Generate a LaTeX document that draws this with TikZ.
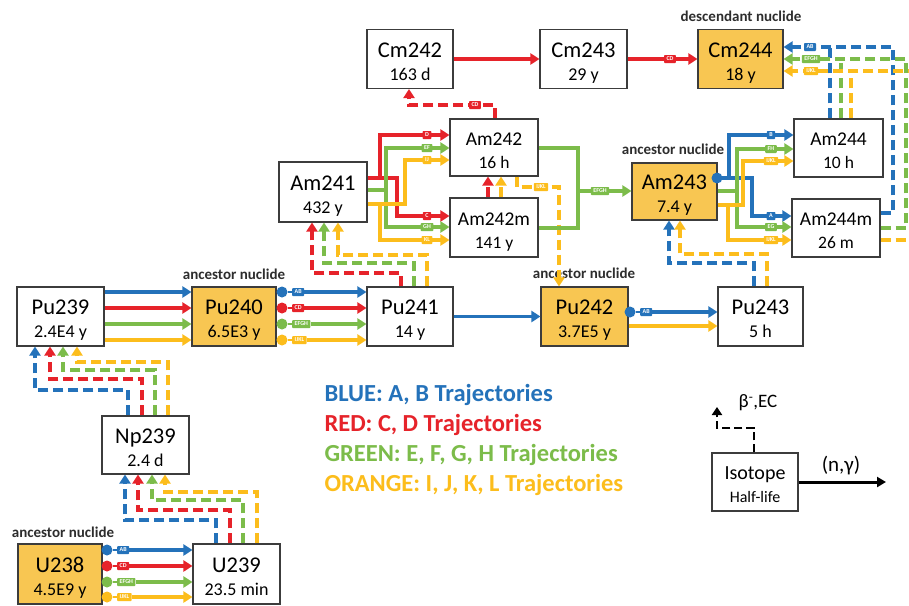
\documentclass[tikz,border=0pt]{standalone}
\usepackage{fontspec}
\setmainfont{Carlito}
\usetikzlibrary{arrows.meta}
\definecolor{cblue}{RGB}{36,114,186}
\definecolor{cred}{RGB}{230,35,42}
\definecolor{cgreen}{RGB}{124,188,74}
\definecolor{corange}{RGB}{252,189,28}
\definecolor{cfill}{RGB}{248,198,82}
\definecolor{boxline}{RGB}{60,60,60}
\definecolor{anctext}{RGB}{45,45,45}
\newcommand{\nuc}[2]{\rule{0pt}{23pt}{\fontsize{22.5}{22.5}\selectfont #1}\\{\fontsize{18}{18}\selectfont #2}\rule[-3.5pt]{0pt}{3.5pt}}
\newcommand{\nucs}[2]{\rule{0pt}{22pt}{\fontsize{19.5}{19.5}\selectfont #1}\\{\fontsize{17.5}{17.5}\selectfont #2}\rule[-3.5pt]{0pt}{3.5pt}}
\tikzset{
  nbox/.style={draw=boxline, line width=1.1pt, fill=white, inner sep=0pt, align=center,
    font=\fontsize{17.5}{23}\selectfont, minimum width=86pt, minimum height=59pt},
  abox/.style={nbox, fill=cfill},
  sol/.style={line width=3.7pt, -{Triangle[length=9pt,width=11pt]}},
  sln/.style={line width=3.7pt},
  dsh/.style={line width=3.3pt, dash pattern=on 10pt off 5pt, -{Triangle[length=9pt,width=11pt]}},
  dshn/.style={line width=3.3pt, dash pattern=on 10pt off 5pt},
  ntag/.style={fill=#1, text=white, font=\fontsize{6}{6}\selectfont\bfseries, inner xsep=2.5pt,
    inner ysep=1pt, minimum height=8pt, rounded corners=0.8pt},
  ndot/.style={circle, fill=#1, minimum size=11pt, inner sep=0pt},
  thinl/.style={line width=1.8pt},
  anclab/.style={font=\fontsize{15}{15}\selectfont\bfseries, text=anctext},
  lgd/.style={font=\fontsize{24.5}{24.5}\selectfont\bfseries, anchor=west},
}
\begin{document}
\begin{tikzpicture}[x=1pt,y=-1pt]
\useasboundingbox (0,0) rectangle (909,605);
\clip (0,0) rectangle (909,605);
\fill[white] (0,0) rectangle (909,605);

% ---------- boxes ----------
\node[nbox] (Cm242) at (410,59) {\nuc{Cm242}{163 d}};
\node[nbox, minimum width=87pt] (Cm243) at (583.5,59) {\nuc{Cm243}{29 y}};
\node[abox, minimum width=85pt] (Cm244) at (740.5,59) {\nuc{Cm244}{18 y}};
\node[nbox, minimum width=88pt, minimum height=60pt] (Am241) at (323,192) {\nuc{Am241}{432 y}};
\node[nbox, minimum width=88pt, minimum height=57pt] (Am242) at (494,147.5) {\nucs{Am242}{16 h}};
\node[nbox, minimum width=88pt] (Am242m) at (494,227.5) {\nucs{Am242m}{141 y}};
\node[abox, minimum width=85pt, minimum height=57pt] (Am243) at (674.5,191.5) {\nuc{Am243}{7.4 y}};
\node[nbox, minimum width=89pt, minimum height=58pt] (Am244) at (838.5,148) {\nucs{Am244}{10 h}};
\node[nbox, minimum width=88pt, minimum height=58pt] (Am244m) at (836,228) {\nucs{Am244m}{26 m}};
\node[nbox, minimum width=87pt] (Pu239) at (60.5,316.5) {\nuc{Pu239}{2.4E4 y}};
\node[abox, minimum width=84pt] (Pu240) at (234,316.5) {\nuc{Pu240}{6.5E3 y}};
\node[nbox] (Pu241) at (410,316.5) {\nuc{Pu241}{14 y}};
\node[abox, minimum width=87pt] (Pu242) at (584.5,316.5) {\nuc{Pu242}{3.7E5 y}};
\node[nbox, minimum width=85pt] (Pu243) at (760.5,316.5) {\nuc{Pu243}{5 h}};
\node[nbox, minimum width=87pt, minimum height=58pt] (Np239) at (145.5,445) {\nuc{Np239}{2.4 d}};
\node[abox, minimum width=84pt, minimum height=60pt] (U238) at (60,574) {\nuc{U238}{4.5E9 y}};
\node[nbox, minimum width=87pt, minimum height=60pt] (U239) at (236.5,574) {\nuc{U239}{23.5 min}};
\node[nbox, minimum width=86pt, minimum height=58pt] (Key) at (755,482)
  {\rule{0pt}{22pt}{\fontsize{20}{20}\selectfont Isotope}\\{\fontsize{16}{16}\selectfont Half-life}\rule[-3.5pt]{0pt}{3.5pt}};

% ---------- labels ----------
\node[anclab] (an1) at (234,274) {ancestor nuclide};
\node[anclab] (an2) at (584,273) {ancestor nuclide};
\node[anclab] (an3) at (673,149) {ancestor nuclide};
\node[anclab] (an4) at (63,532) {ancestor nuclide};
\node[anclab] (dn) at (741,16) {descendant nuclide};

\node[lgd, text=cblue] (lg1) at (321,395) {BLUE: A, B Trajectories};
\node[lgd, text=cred] (lg2) at (321,425) {RED: C, D Trajectories};
\node[lgd, text=cgreen] (lg3) at (321,455) {GREEN: E, F, G, H Trajectories};
\node[lgd, text=corange] (lg4) at (321,485) {ORANGE: I, J, K, L Trajectories};

% ---------- U238 -> U239 ----------
\foreach \c/\y/\l/\n in {cblue/550/AB/a, cred/566/CD/b, cgreen/582/EFGH/c, corange/597/IJKL/d} {
  \node[ndot=\c] (u38d\n) at (107,\y) {};
  \node[ntag=\c, anchor=west] (u38l\n) at (117,\y) {\l};
  \draw[thinl,\c] (u38d\n) -- (u38l\n);
  \draw[sol,\c] (u38l\n) -- (U239.west |- u38l\n);
}

% ---------- U239 -> Np239 ----------
\draw[dsh,cblue] (U239.north -| 216,0) -- (216,520) -- (125,520) -- (Np239.south -| 125,0);
\draw[dsh,cred] (U239.north -| 230,0) -- (230,510) -- (138,510) -- (Np239.south -| 138,0);
\draw[dsh,cgreen] (U239.north -| 243,0) -- (243,500) -- (152,500) -- (Np239.south -| 152,0);
\draw[dsh,corange] (U239.north -| 257,0) -- (257,492) -- (165,492) -- (Np239.south -| 165,0);

% ---------- Np239 -> Pu239 ----------
\draw[dsh,cblue] (Np239.north -| 128,0) -- (128,390) -- (35,390) -- (Pu239.south -| 35,0);
\draw[dsh,cred] (Np239.north -| 142,0) -- (142,379) -- (50,379) -- (Pu239.south -| 50,0);
\draw[dsh,cgreen] (Np239.north -| 155,0) -- (155,370) -- (63,370) -- (Pu239.south -| 63,0);
\draw[dsh,corange] (Np239.north -| 168,0) -- (168,362) -- (77,362) -- (Pu239.south -| 77,0);

% ---------- Pu239 -> Pu240 ----------
\foreach \c/\y in {cblue/292, cred/308, cgreen/324, corange/340}
  \draw[sol,\c] (Pu239.east |- 0,\y) -- (Pu240.west |- 0,\y);

% ---------- Pu240 -> Pu241 ----------
\foreach \c/\y/\l/\n in {cblue/292/AB/a, cred/308/CD/b, cgreen/324/EFGH/c, corange/340/IJKL/d} {
  \node[ndot=\c] (p40d\n) at (282,\y) {};
  \node[ntag=\c, anchor=west] (p40l\n) at (292,\y) {\l};
  \draw[thinl,\c] (p40d\n) -- (p40l\n);
  \draw[sol,\c] (p40l\n) -- (Pu241.west |- p40l\n);
}

% ---------- Pu241 -> Am241 ----------
\draw[dsh,cred] (Pu241.north -| 401,0) -- (401,273) -- (312,273) -- (Am241.south -| 312,0);
\draw[dsh,cgreen] (Pu241.north -| 414,0) -- (414,263) -- (324,263) -- (Am241.south -| 324,0);
\draw[dsh,corange] (Pu241.north -| 427,0) -- (427,255) -- (338,255) -- (Am241.south -| 338,0);

% ---------- Pu241 -> Pu242 ----------
\draw[sol,cblue] (Pu241) -- (Pu242);

% ---------- Pu242 -> Pu243 ----------
\node[ndot=cblue] (p42d) at (630,312) {};
\node[ntag=cblue, anchor=west] (p42l) at (640,312) {AB};
\draw[thinl,cblue] (p42d) -- (p42l);
\draw[sol,cblue] (p42l) -- (Pu243.west |- p42l);
\draw[sol,corange] (Pu242.east |- 0,326) -- (Pu243.west |- 0,326);

% ---------- Pu243 -> Am243 ----------
\draw[dsh,cblue] (Pu243.north -| 754,0) -- (754,263) -- (669,263) -- (Am243.south -| 669,0);
\draw[dsh,corange] (Pu243.north -| 767,0) -- (767,254) -- (680,254) -- (Am243.south -| 680,0);

% ---------- Am241 -> Am242 / Am242m ----------
\draw[sol,cred] (Am241.east |- 0,178) -- (380,178) -- (380,135) -- (Am242.west |- 0,135);
\draw[sol,cred] (Am241.east |- 0,178) -- (397,178) -- (397,216) -- (Am242m.west |- 0,216);
\draw[sol,cgreen] (Am241.east |- 0,190) -- (386,190) -- (386,148) -- (Am242.west |- 0,148);
\draw[sol,cgreen] (Am241.east |- 0,190) -- (386,190) -- (386,227) -- (Am242m.west |- 0,227);
\draw[sol,corange] (Am241.east |- 0,204) -- (405,204) -- (405,160) -- (Am242.west |- 0,160);
\draw[sol,corange] (Am241.east |- 0,204) -- (380,204) -- (380,240) -- (Am242m.west |- 0,240);
\node[ntag=cred] (t1) at (427,135) {D};
\node[ntag=cgreen] (t2) at (427,148) {EF};
\node[ntag=corange] (t3) at (427,160) {IJ};
\node[ntag=cred] (t4) at (427,216) {C};
\node[ntag=cgreen] (t5) at (427,227) {GH};
\node[ntag=corange] (t6) at (427,240) {KL};

% ---------- Am242m -> Am242 ----------
\draw[dsh,cred] (Am242m.north -| 488,0) -- (Am242.south -| 488,0);
\draw[dsh,corange] (Am242m.north -| 501,0) -- (Am242.south -| 501,0);

% ---------- Am242 -> Cm242 ----------
\draw[dsh,cred] (Am242.north -| 495,0) -- (495,105) -- (409,105) -- (Cm242.south -| 409,0);
\node[ntag=cred] (t7) at (475,105) {CD};

% ---------- Am242 -> Pu242 ----------
\draw[dsh,corange] (Am242.south -| 517,0) -- (517,187) -- (559,187) -- (Pu242.north -| 559,0);
\node[ntag=corange] (t8) at (541,187) {IJKL};

% ---------- Am242 / Am242m -> Am243 ----------
\draw[sln,cgreen] (Am242.east |- 0,148) -- (578,148) -- (578,228) -- (Am242m.east |- 0,228);
\coordinate (gj) at (578,191);
\draw[sol,cgreen] (gj) -- (Am243.west |- gj);
\node[ntag=cgreen] (t9) at (600,191) {EFGH};

% ---------- Cm chain ----------
\draw[sol,cred] (Cm242) -- (Cm243);
\draw[sol,cred] (Cm243) -- (Cm244);
\node[ntag=cred] (t10) at (670,59) {CD};

% ---------- Am243 -> Am244 / Am244m ----------
\draw[sol,cblue] (Am243.east |- 0,178) -- (729,178) -- (729,135) -- (Am244.west |- 0,135);
\draw[sol,cblue] (Am243.east |- 0,178) -- (752,178) -- (752,216) -- (Am244m.west |- 0,216);
\draw[sol,cgreen] (Am243.east |- 0,191) -- (737,191) -- (737,149) -- (Am244.west |- 0,149);
\draw[sol,cgreen] (Am243.east |- 0,191) -- (737,191) -- (737,227) -- (Am244m.west |- 0,227);
\draw[sol,corange] (Am243.east |- 0,205) -- (743,205) -- (743,161) -- (Am244.west |- 0,161);
\draw[sol,corange] (Am243.east |- 0,205) -- (728,205) -- (728,240) -- (Am244m.west |- 0,240);
\node[ndot=cblue] (a43d) at (717,178) {};
\node[ntag=cblue] (t11) at (771,135) {B};
\node[ntag=cgreen] (t12) at (771,149) {FH};
\node[ntag=corange] (t13) at (771,161) {IJKL};
\node[ntag=cblue] (t14) at (771,216) {A};
\node[ntag=cgreen] (t15) at (771,227) {EG};
\node[ntag=corange] (t16) at (771,240) {IJKL};

% ---------- Am244 / Am244m -> Cm244 ----------
\coordinate (jb) at (830,47);
\coordinate (jg) at (841,59);
\coordinate (jo) at (851,71);
\draw[dshn,cblue] (Am244.north -| jb) -- (jb);
\draw[dshn,cgreen] (Am244.north -| jg) -- (jg);
\draw[dshn,corange] (Am244.north -| jo) -- (jo);
\draw[dsh,cblue] (Am244m.east |- 0,213) -- (893,213) -- (893,47) -- (Cm244.east |- jb);
\draw[dsh,cgreen] (Am244m.east |- 0,228) -- (906,228) -- (906,59) -- (Cm244.east |- jg);
\draw[dsh,corange] (Am244m.east |- 0,240) -- (920,240) -- (920,71) -- (Cm244.east |- jo);
\node[ntag=cblue] (t17) at (810,47) {AB};
\node[ntag=cgreen] (t18) at (811,59) {EFGH};
\node[ntag=corange] (t19) at (811,71) {IJKL};

% ---------- key ----------
\coordinate (kb) at (717,407);
\coordinate (kn) at (886,482);
\draw[line width=2.8pt, dash pattern=on 8pt off 4pt, -{Triangle[length=8pt,width=10pt]}]
  (Key.north -| 754,0) -- (754,428) -- (717,428) -- (kb);
\draw[line width=3pt, -{Triangle[length=9pt,width=10pt]}] (Key.east |- kn) -- (kn);
\node[font=\fontsize{19}{19}\selectfont] (kbeta) at (758,403) {β\textsuperscript{-},EC};
\node[font=\fontsize{21}{21}\selectfont] (kng) at (841,466) {(n,γ)};
\end{tikzpicture}
\end{document}
